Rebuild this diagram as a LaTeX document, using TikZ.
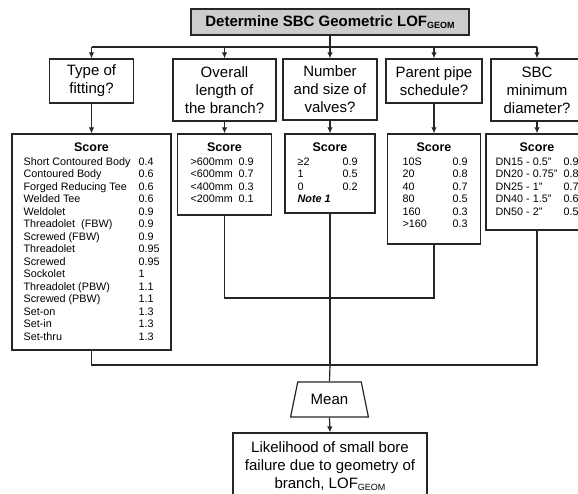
\documentclass[tikz,border=0pt]{standalone}
\usepackage{fontspec}
\setmainfont{Liberation Sans}
\usetikzlibrary{arrows.meta,shapes.geometric}

\newcommand{\geomsub}{\raisebox{-2pt}{\fontsize{9}{9}\selectfont GEOM}}

\begin{document}
\begin{tikzpicture}[x=1pt,y=-1pt,line width=1.2pt,
  box/.style={draw=black!85,rectangle,inner sep=0pt,align=center,
    font=\fontsize{15}{18}\selectfont},
  scorehead/.style={anchor=base,inner sep=0pt,font=\fontsize{12.5}{14}\selectfont\bfseries},
  tab/.style={anchor=north west,inner sep=0pt,font=\fontsize{10.8}{12.5}\selectfont},
  link/.style={draw=black!85,line width=1.2pt},
  arr/.style={link,-{Latex[length=6pt,width=5.5pt]}}]

\useasboundingbox (0,0) rectangle (578,494);
\clip (0,0) rectangle (578,494);

% title
\node[box,fill=black!20,minimum width=278,minimum height=26,
  font=\fontsize{15}{18}\selectfont\bfseries] (title) at (330,22)
  {Determine SBC Geometric LOF\geomsub};

% questions
\node[box,minimum width=84,minimum height=44]  (q1) at (91.5,81)  {Type of\\fitting?};
\node[box,minimum width=103,minimum height=62] (q2) at (224.5,90) {Overall\\length of\\the branch?};
\node[box,minimum width=94,minimum height=61]  (q3) at (330,89.5) {Number\\and size of\\valves?};
\node[box,minimum width=96,minimum height=44]  (q4) at (434,81)   {Parent pipe\\schedule?};
\node[box,minimum width=92,minimum height=62]  (q5) at (537,90)   {SBC\\minimum\\diameter?};

% score boxes
\node[box,minimum width=159,minimum height=216] (s1) at (91.5,242)  {};
\node[box,minimum width=94,minimum height=81]   (s2) at (224.5,174.5) {};
\node[box,minimum width=90,minimum height=79]   (s3) at (330,173.5) {};
\node[box,minimum width=93,minimum height=110]  (s4) at (434,189)   {};
\node[box,minimum width=102,minimum height=96]  (s5) at (537,182)   {};

% score headings
\node[scorehead] (h1) at (91.5,152) {Score};
\node[scorehead] (h2) at (224.5,152) {Score};
\node[scorehead] (h3) at (330,152) {Score};
\node[scorehead] (h4) at (434,152) {Score};
\node[scorehead] (h5) at (537,152) {Score};

% score tables
\node[tab] (t1) at (23,155.75) {\begin{tabular}{@{}p{115pt}@{}l@{}}
Short Contoured Body & 0.4\\
Contoured Body & 0.6\\
Forged Reducing Tee & 0.6\\
Welded Tee & 0.6\\
Weldolet & 0.9\\
Threadolet\ \ (FBW) & 0.9\\
Screwed (FBW) & 0.9\\
Threadolet & 0.95\\
Screwed & 0.95\\
Sockolet & 1\\
Threadolet (PBW) & 1.1\\
Screwed (PBW) & 1.1\\
Set-on & 1.3\\
Set-in & 1.3\\
Set-thru & 1.3
\end{tabular}};

\node[tab] (t2) at (190,155.75) {\begin{tabular}{@{}p{48pt}@{}l@{}}
>600mm & 0.9\\
<600mm & 0.7\\
<400mm & 0.3\\
<200mm & 0.1
\end{tabular}};

\node[tab] (t3) at (297,155.75) {\begin{tabular}{@{}p{45pt}@{}l@{}}
≥2 & 0.9\\
1 & 0.5\\
0 & 0.2\\
\multicolumn{2}{@{}l@{}}{\bfseries\itshape Note 1}
\end{tabular}};

\node[tab] (t4) at (402,155.75) {\begin{tabular}{@{}p{50pt}@{}l@{}}
10S & 0.9\\
20 & 0.8\\
40 & 0.7\\
80 & 0.5\\
160 & 0.3\\
>160 & 0.3
\end{tabular}};

\node[tab] (t5) at (495,155.75) {\begin{tabular}{@{}p{68pt}@{}l@{}}
DN15 - 0.5" & 0.9\\
DN20 - 0.75" & 0.8\\
DN25 - 1" & 0.7\\
DN40 - 1.5" & 0.6\\
DN50 - 2" & 0.5
\end{tabular}};

% mean and result
\node[draw=black!85,trapezium,trapezium left angle=68,trapezium right angle=68,
  trapezium stretches=true,minimum width=78,minimum height=35,inner sep=0pt,
  font=\fontsize{15}{18}\selectfont] (mean) at (329.5,399.5) {Mean};
\node[box,minimum width=194,minimum height=67] (res) at (330,466.5)
  {Likelihood of small bore\\failure due to geometry of\\branch, LOF\geomsub};

% distribution bus
\coordinate (b1) at (91.5,47);
\coordinate (b2) at (224.5,47);
\coordinate (b3) at (330,47);
\coordinate (b4) at (434,47);
\coordinate (b5) at (537,47);
\path[link] (title.south) -- (b3);
\path[link] (b1) -- (b5);
\path[arr] (b1) -- (q1.north);
\path[arr] (b2) -- (q2.north);
\path[arr] (b3) -- (q3.north);
\path[arr] (b4) -- (q4.north);
\path[arr] (b5) -- (q5.north);

\path[arr] (q1) -- (s1.north);
\path[arr] (q2) -- (s2.north);
\path[arr] (q3) -- (s3.north);
\path[arr] (q4) -- (s4.north);
\path[arr] (q5) -- (s5.north);

% collection to the mean
\coordinate (k3) at (330,298);
\coordinate (jm) at (330,365);
\path[link] (s2.south) |- (k3) -| (s4.south);
\path[link] (s3.south) -- (k3) -- (jm);
\path[link] (s1.south) |- (jm);
\path[link] (s5.south) |- (jm);
\path[link] (jm) -- (mean.north);
\path[arr] (mean.south) -- (res.north);
\end{tikzpicture}
\end{document}
